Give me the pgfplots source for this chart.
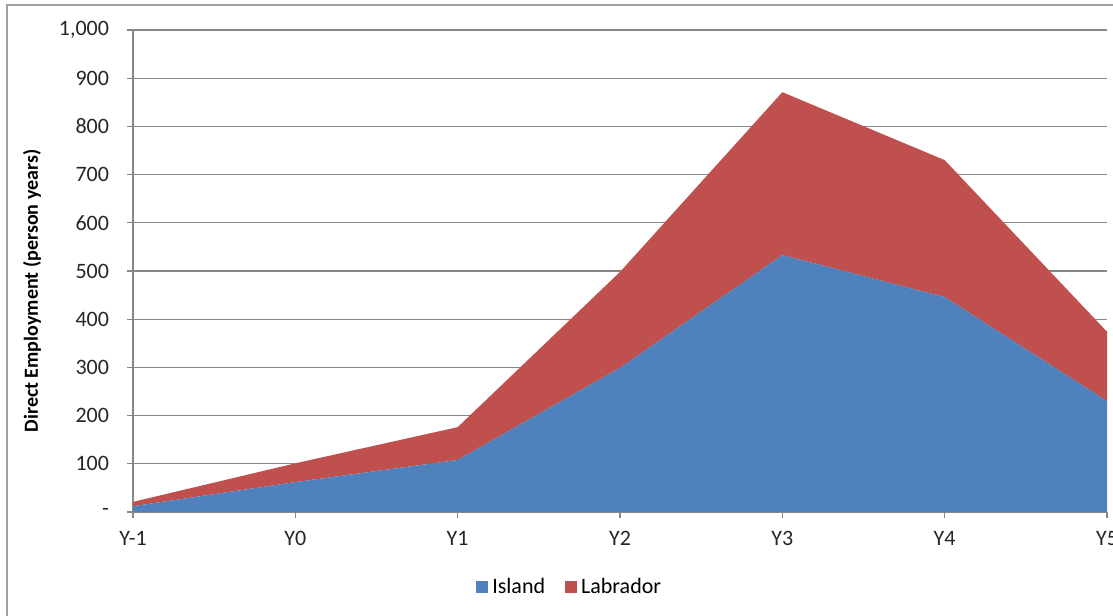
\documentclass[border=0pt]{standalone}
\usepackage{pgfplots}
\pgfplotsset{compat=1.18}
\usepackage{fontspec}
\setmainfont{Carlito}
\definecolor{isl}{HTML}{4F81BD}
\definecolor{lab}{HTML}{C0504D}
\definecolor{gridc}{HTML}{878787}
\begin{document}
\begin{tikzpicture}
\path[use as bounding box] (-99.75pt,-78pt) rectangle (735pt,384pt);
\draw[color=gridc!80, line width=0.9pt] (-94.5pt,-120pt) rectangle (800pt,380.25pt);
\begin{axis}[
  at={(0,0)}, anchor=south west,
  scale only axis, width=730.5pt, height=361.5pt,
  xmin=0, xmax=6, ymin=0, ymax=1000,
  stack plots=y,
  axis x line=bottom, axis y line=left,
  axis line style={-, draw=gridc, line width=0.9pt},
  tick align=outside, major tick length=4.5pt,
  tick style={draw=gridc, line width=0.9pt},
  xtick={0,1,2,3,4,5,6},
  xticklabels={Y-1,Y0,Y1,Y2,Y3,Y4,Y5},
  ytick={0,100,200,300,400,500,600,700,800,900,1000},
  yticklabels={{-\hspace{9pt}},100,200,300,400,500,600,700,800,900,{1,000}},
  ymajorgrids, grid style={draw=gridc, line width=0.9pt},
  tick label style={font=\fontsize{16.5}{19}\selectfont, color=black!85},
  xticklabel style={yshift=-6.5pt},
  yticklabel style={xshift=-10pt},
  ylabel={Direct Employment (person years)},
  ylabel style={at={(axis description cs:-0.1037,0.4585)}, anchor=center, font=\fontsize{15}{18}\selectfont\bfseries},
  legend columns=2,
  legend style={at={(axis description cs:0.4487,-0.1556)}, anchor=center, draw=none, fill=none,
    font=\fontsize{16.5}{19}\selectfont, column sep=1pt, /tikz/every even column/.append style={column sep=13pt}},
  legend image code/.code={\fill[#1] (0pt,-4.5pt) rectangle (9pt,4.5pt);},
  clip=false,
]
\addplot[fill=isl, draw=none] coordinates {(0,12) (1,62) (2,108) (3,299) (4,533) (5,446) (6,230)} \closedcycle;
\addlegendentry{Island}
\addplot[fill=lab, draw=none] coordinates {(0,9) (1,39) (2,68) (3,199) (4,338) (5,284) (6,144)} \closedcycle;
\addlegendentry{Labrador}
\end{axis}
\end{tikzpicture}
\end{document}
